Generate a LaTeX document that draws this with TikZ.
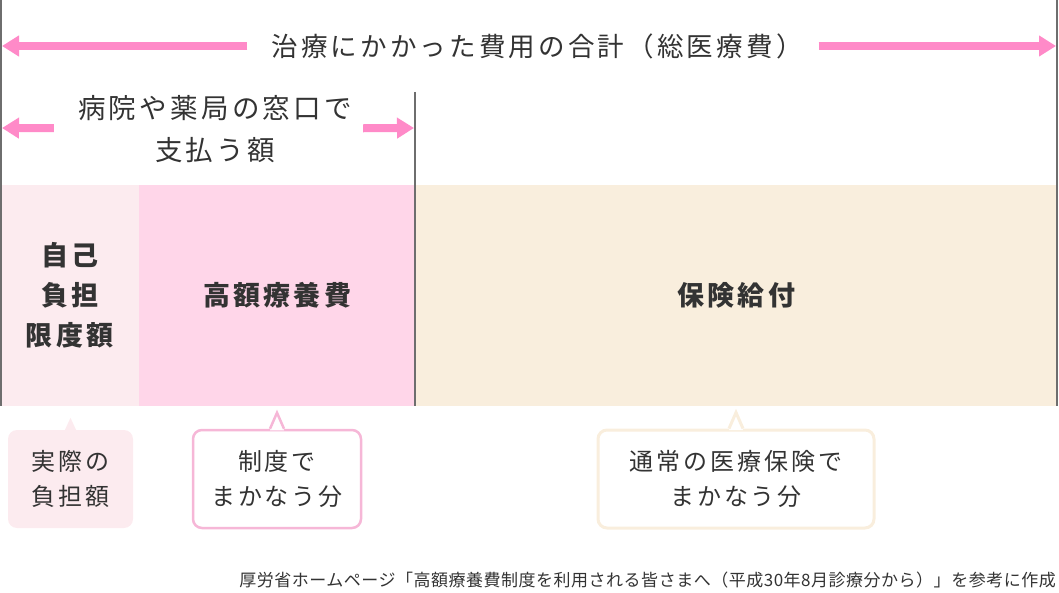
\documentclass[tikz,border=0pt]{standalone}
\usepackage{fontspec}
\usetikzlibrary{arrows.meta,calc}
\newfontfamily\jpfont[LetterSpace=12]{Noto Sans CJK JP}
\newfontfamily\jpnote[LetterSpace=3]{Noto Sans CJK JP}
\definecolor{arrowpink}{HTML}{FF8AC8}
\definecolor{linegray}{HTML}{6E6E6E}
\definecolor{selfpink}{HTML}{FCEBEF}
\definecolor{highpink}{HTML}{FFD6E9}
\definecolor{insurecream}{HTML}{F9EEDD}
\definecolor{notepink}{HTML}{F6B7D7}
\definecolor{inkgray}{HTML}{333333}
\tikzset{
  pinkarrow/.style={draw=arrowpink,line width=8pt,-{Triangle[length=17pt,width=20pt]}},
  headlabel/.style={text=inkgray,align=center,inner sep=0pt,font=\jpfont\fontsize{26.5pt}{42pt}\selectfont},
  segbox/.style={anchor=north west,minimum height=221pt,inner sep=0pt,text=inkgray,align=center,font=\jpfont\bfseries\fontsize{27pt}{40pt}\selectfont},
  notebox/.style={rounded corners=9pt,minimum height=98pt,text=inkgray,align=center,font=\jpfont\fontsize{24pt}{35pt}\selectfont},
}
\begin{document}
\begin{tikzpicture}[x=1pt,y=-1pt]
    \useasboundingbox (0,0) rectangle (1059,593);
    % total cost
    \node[headlabel] (total) at (537,46) {治療にかかった費用の合計（総医療費）};
    \coordinate (totalL) at (2,46);
    \coordinate (totalR) at (1056,46);
    \draw[pinkarrow,shorten <=24pt] (total) -- (totalL);
    \draw[pinkarrow,shorten <=16pt] (total) -- (totalR);
    % paid at the counter
    \node[headlabel,font=\jpfont\fontsize{27.5pt}{42pt}\selectfont] (window) at (215,129) {病院や薬局の窓口で\\支払う額};
    \coordinate (windowL) at (2,128);
    \coordinate (windowR) at (414,128);
    \draw[pinkarrow,shorten <=24pt] (window) -- (windowL);
    \draw[pinkarrow,shorten <=11pt] (window) -- (windowR);
    % bar
    \node[segbox,fill=selfpink,minimum width=139pt] (selfseg) at (0,185) {自己\\負担\\限度額};
    \node[segbox,fill=highpink,minimum width=276pt] (highseg) at (139,185) {高額療養費};
    \node[segbox,fill=insurecream,minimum width=642pt] (insureseg) at (415,185) {保険給付};
    \draw[linegray,line width=2.5pt] (1,0) -- (1,406);
    \draw[linegray,line width=2.5pt] (1057,0) -- (1057,406);
    \draw[linegray,line width=2.5pt] (415,92) -- (415,406);
    % notes
    \node[notebox,fill=selfpink,minimum width=125pt] (selfnote) at (70.5,479) {実際の\\負担額};
    \node[notebox,draw=notepink,line width=2.5pt,fill=white,minimum width=168pt] (highnote) at (277,479) {制度で\\まかなう分};
    \node[notebox,draw=insurecream,line width=3pt,fill=white,minimum width=276pt] (insurenote) at (736,479) {通常の医療保険で\\まかなう分};
    \fill[selfpink] ($(selfnote.north)+(-6,1)$) -- ($(selfnote.north)+(0,-12)$) -- ($(selfnote.north)+(6,1)$) -- cycle;
    \fill[white] ($(highnote.north)+(-7,1.5)$) -- ($(highnote.north)+(0,-16)$) -- ($(highnote.north)+(7,1.5)$) -- cycle;
    \draw[notepink,line width=2.5pt,line join=miter] ($(highnote.north)+(-7,0)$) -- ($(highnote.north)+(0,-16)$) -- ($(highnote.north)+(7,0)$);
    \fill[white] ($(insurenote.north)+(-7,1.5)$) -- ($(insurenote.north)+(0,-16)$) -- ($(insurenote.north)+(7,1.5)$) -- cycle;
    \draw[insurecream,line width=3pt,line join=miter] ($(insurenote.north)+(-7,0)$) -- ($(insurenote.north)+(0,-16)$) -- ($(insurenote.north)+(7,0)$);
    % source
    \node[anchor=east,inner sep=0pt,text=inkgray,font=\jpnote\fontsize{17pt}{19pt}\selectfont] (source) at (1056,580) {厚労省ホームページ「高額療養費制度を利用される皆さまへ（平成30年8月診療分から）」を参考に作成};
\end{tikzpicture}
\end{document}
